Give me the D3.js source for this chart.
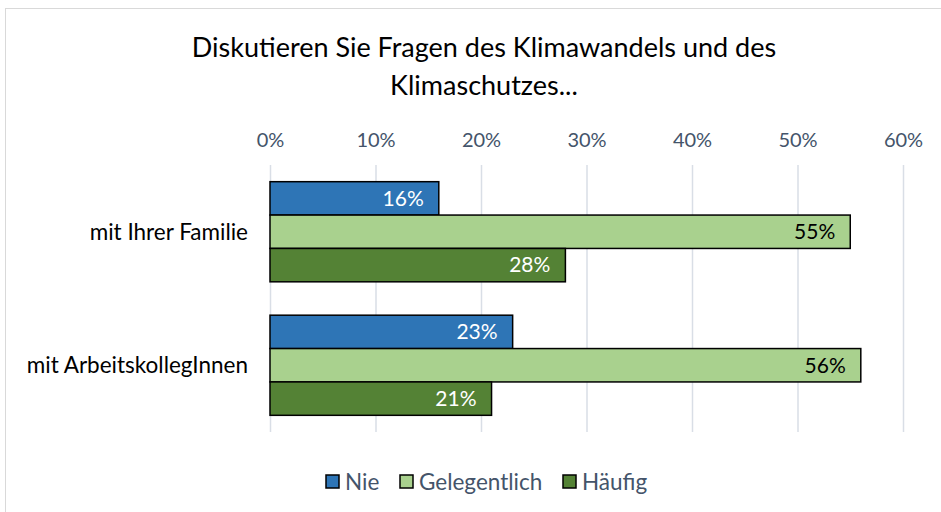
<!DOCTYPE html>
<html>
<head>
<meta charset="utf-8">
<script src="https://cdn.jsdelivr.net/npm/d3@7"></script>
<style>
  body { margin: 0; background: #fff; }
  text { font-family: Lato, "Open Sans", sans-serif; }
</style>
</head>
<body>
<svg width="941" height="512"></svg>
<script>
var categories = ['mit Ihrer Familie', 'mit ArbeitskollegInnen'];
var seriesNames = ['Nie', 'Gelegentlich', 'Häufig'];
var nie = [16, 23];
var gelegentlich = [55, 56];
var haeufig = [28, 21];
var ticks = [0, 10, 20, 30, 40, 50, 60];
var titleLines = ['Diskutieren Sie Fragen des Klimawandels und des', 'Klimaschutzes...'];

var colors = ['#2E75B6', '#A9D18E', '#548235'];
var labelColors = ['#fff', '#000', '#fff'];

var svg = d3.select('svg'),
    width = +svg.attr('width'),
    height = +svg.attr('height');

// chart frame
svg.append('rect')
    .attr('x', 5.5).attr('y', 8.5)
    .attr('width', width).attr('height', height)
    .attr('fill', '#fff')
    .attr('stroke', '#D9D9D9');

// title
svg.append('g').selectAll('text')
    .data(titleLines)
    .enter().append('text')
        .attr('x', 484)
        .attr('y', (d, i) => 57 + i * 38)
        .attr('text-anchor', 'middle')
        .attr('font-size', 27)
        .attr('fill', '#000')
        .text((d) => d);

var x = d3.scaleLinear().domain([0, 60]).range([270, 903]);
var y = d3.scaleBand().domain(categories).range([165, 432]).paddingInner(0.25).paddingOuter(0.125);
var ySub = d3.scaleBand().domain(seriesNames).range([0, y.bandwidth()]);

// gridlines
svg.append('g')
    .selectAll('line')
    .data(ticks)
    .enter().append('line')
        .attr('x1', (d) => x(d) + 0.5)
        .attr('x2', (d) => x(d) + 0.5)
        .attr('y1', 165)
        .attr('y2', 432)
        .attr('stroke', '#D9DEE6')
        .attr('stroke-width', 1.5);

// top axis
var xAxis = svg.append('g')
    .attr('transform', 'translate(0,150)')
    .call(d3.axisTop(x).tickValues(ticks).tickFormat((d) => d + '%').tickSize(0));
xAxis.select('.domain').remove();
xAxis.selectAll('text')
    .attr('font-size', 20)
    .attr('fill', '#44546A')
    .attr('font-family', 'Lato, "Open Sans", sans-serif');

// category labels
svg.append('g').selectAll('text')
    .data(categories)
    .enter().append('text')
        .attr('x', 248)
        .attr('y', (d) => y(d) + y.bandwidth() / 2)
        .attr('dy', '0.35em')
        .attr('text-anchor', 'end')
        .attr('font-size', 22.5)
        .attr('fill', '#000')
        .text((d) => d);

var seriesValues = [nie, gelegentlich, haeufig];
var rows = [];
categories.forEach(function(c, ci) {
    seriesNames.forEach(function(s, si) {
        rows.push({ cat: c, series: s, si: si, value: seriesValues[si][ci] });
    });
});

var bars = svg.append('g').selectAll('g')
    .data(rows)
    .enter().append('g');

bars.append('rect')
    .attr('x', x(0))
    .attr('y', (d) => y(d.cat) + ySub(d.series))
    .attr('width', (d) => x(d.value) - x(0))
    .attr('height', ySub.bandwidth())
    .attr('fill', (d) => colors[d.si])
    .attr('stroke', '#000')
    .attr('stroke-width', 1.5);

bars.append('text')
    .attr('x', (d) => x(d.value) - 15)
    .attr('y', (d) => y(d.cat) + ySub(d.series) + ySub.bandwidth() / 2)
    .attr('dy', '0.35em')
    .attr('text-anchor', 'end')
    .attr('font-size', 21)
    .attr('fill', (d) => labelColors[d.si])
    .text((d) => d.value + '%');

// legend
var legendX = [326, 400, 563];
var legend = svg.append('g').selectAll('g')
    .data(seriesNames)
    .enter().append('g')
        .attr('transform', (d, i) => 'translate(' + legendX[i] + ',475)');
legend.append('rect')
    .attr('width', 13).attr('height', 13)
    .attr('fill', (d, i) => colors[i])
    .attr('stroke', '#000')
    .attr('stroke-width', 1.5);
legend.append('text')
    .attr('x', 19)
    .attr('y', 7)
    .attr('dy', '0.35em')
    .attr('font-size', 22.5)
    .attr('fill', '#44546A')
    .text((d) => d);
</script>
</body>
</html>
